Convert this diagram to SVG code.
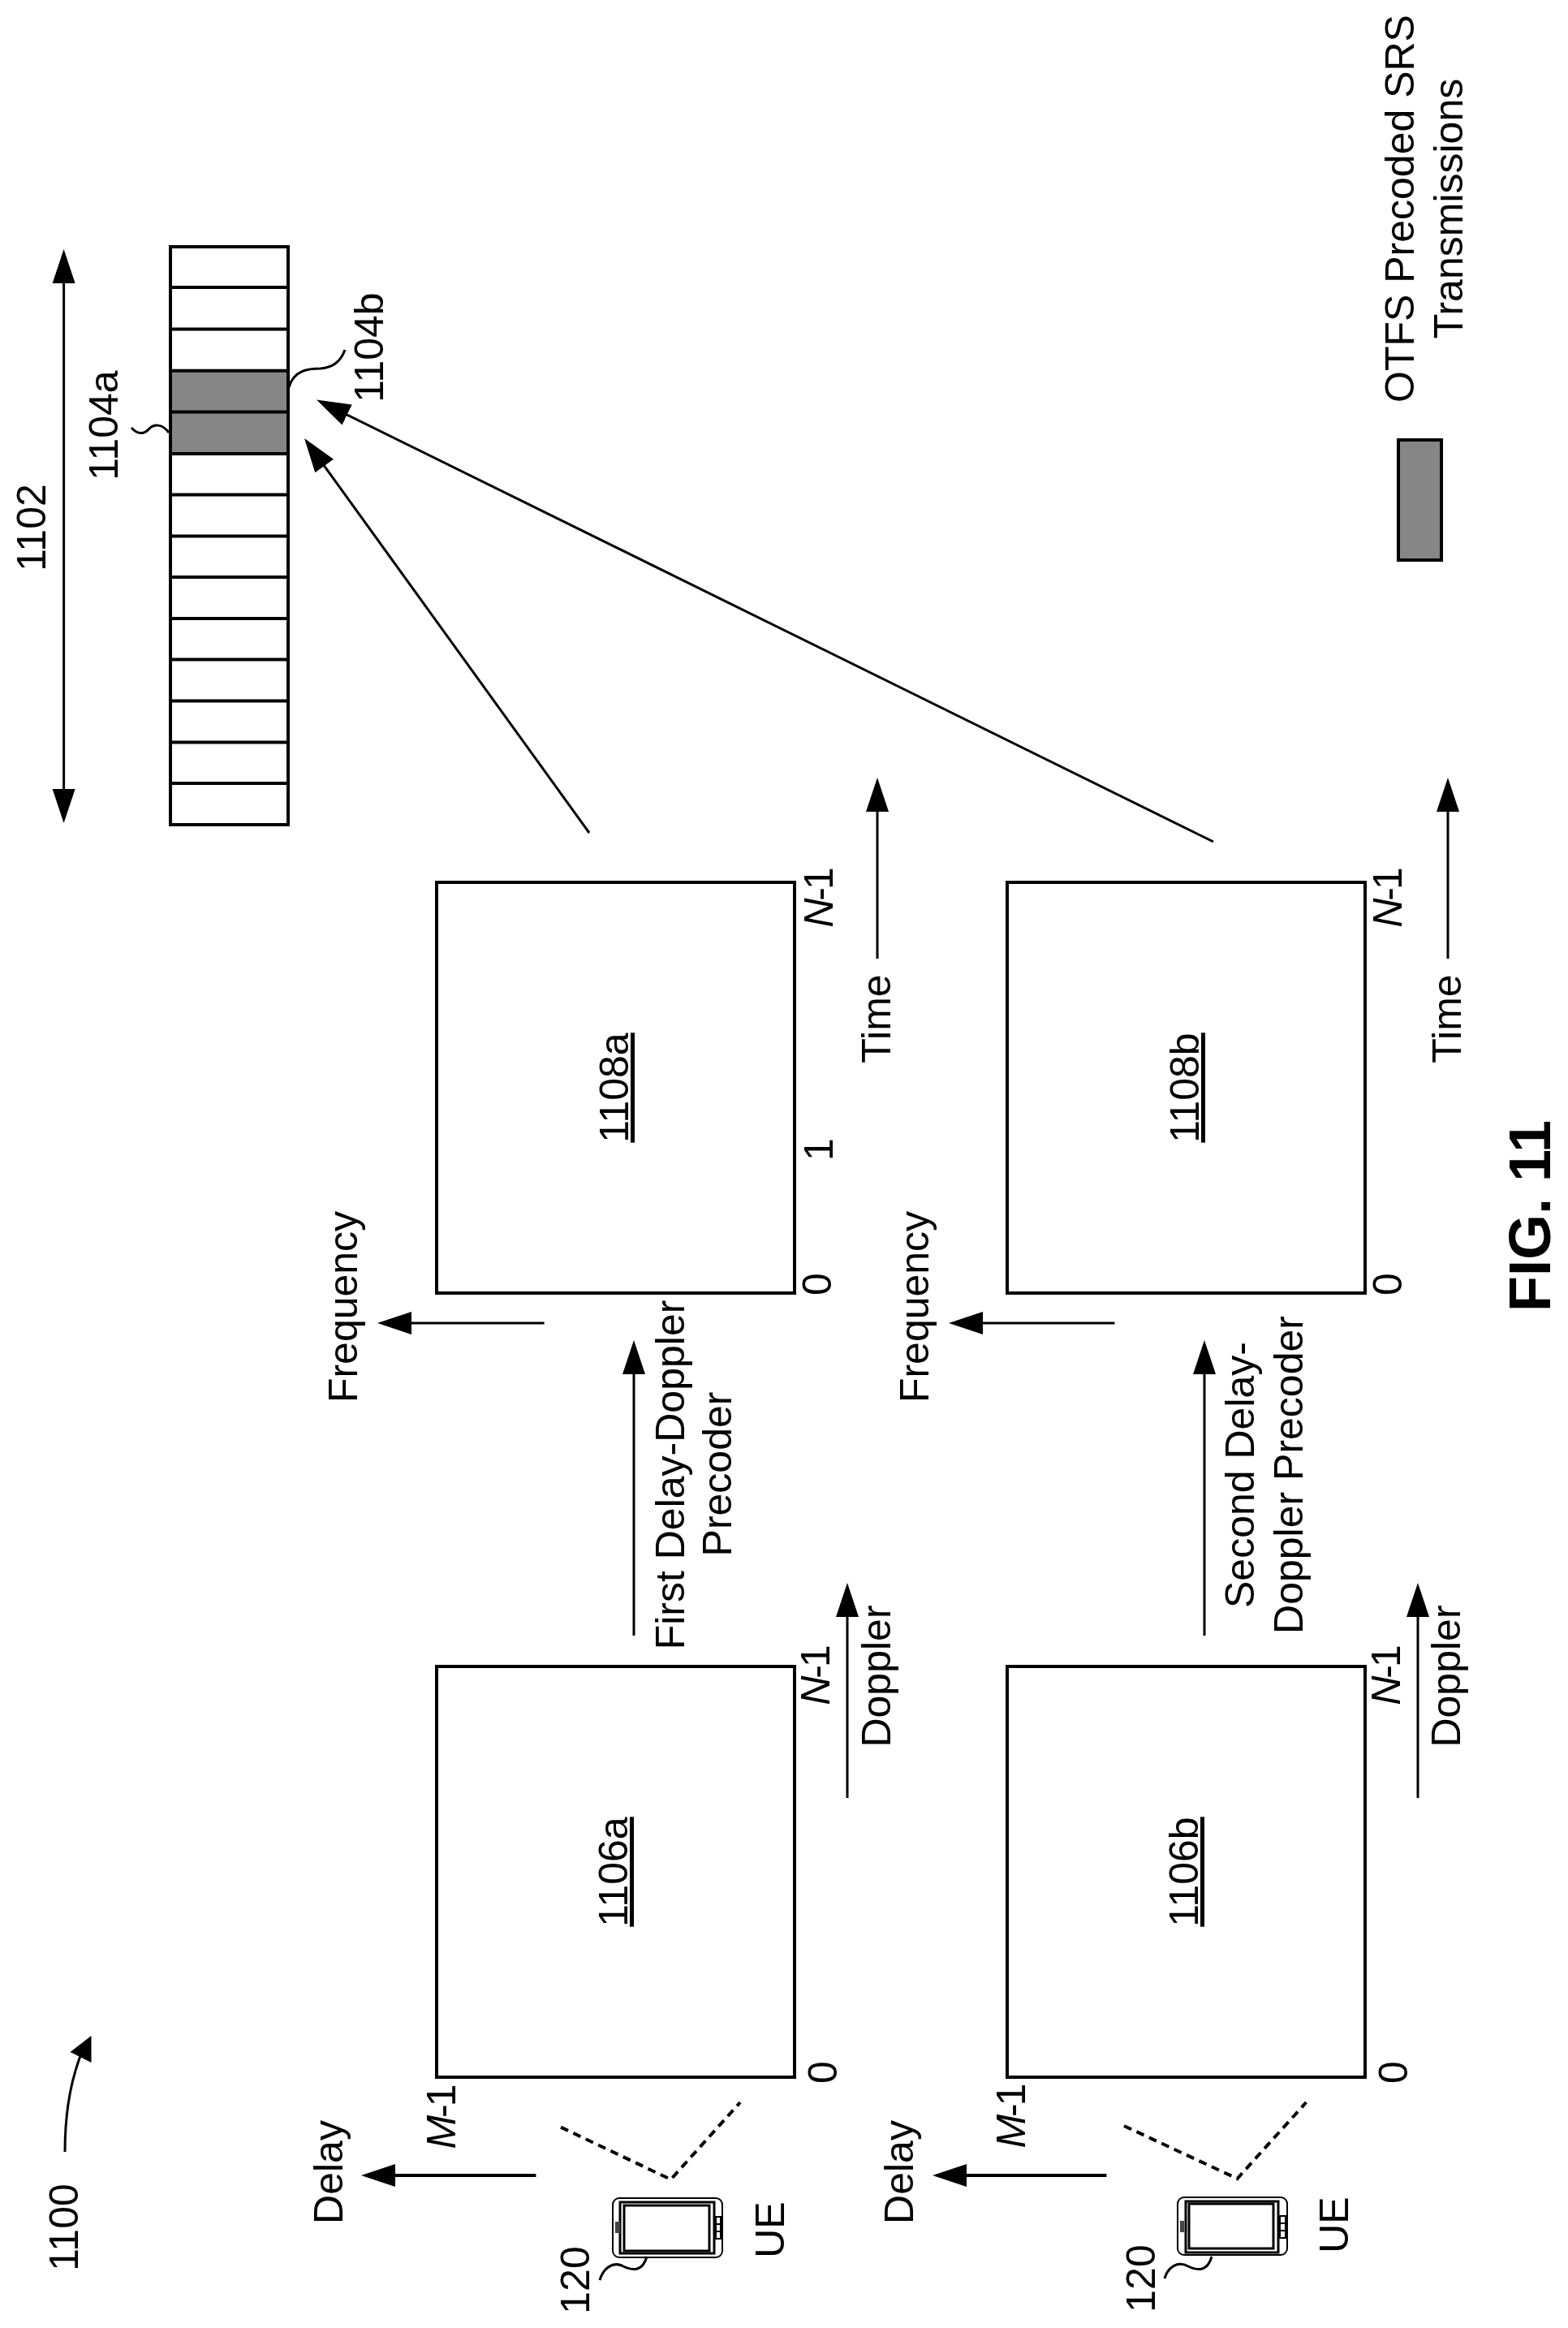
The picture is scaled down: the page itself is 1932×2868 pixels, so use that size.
<svg xmlns="http://www.w3.org/2000/svg" width="1932" height="2868" viewBox="0 0 1932 2868">
<defs>
<style>
text{font-family:"Liberation Sans",Arial,sans-serif;font-size:50px;fill:#000;text-anchor:middle}
.it{font-style:italic}
.ul{text-decoration:underline;text-decoration-thickness:2px}
.fig{font-weight:bold;font-size:72px}
.box{fill:#fff;stroke:#000;stroke-width:4}
.shade{fill:#868686;stroke:#000;stroke-width:4}
.ln{fill:none;stroke:#000;stroke-width:3;stroke-linecap:butt}
.arr{marker-end:url(#head)}
.dash{fill:none;stroke:#000;stroke-width:4;stroke-dasharray:10 7}
.thin{fill:none;stroke:#000;stroke-width:2}
</style>
<marker id="head" markerUnits="userSpaceOnUse" markerWidth="44" markerHeight="30" refX="32" refY="15" orient="auto-start-reverse">
<path d="M0 1 L42 15 L0 29 Z" fill="#000"/>
</marker>
</defs>
<rect width="1932" height="2868" fill="#fff"/>

<g id="strip-1102">
<rect class="box" x="210" y="304" width="145" height="712"/>
<rect class="shade" x="210" y="456.7" width="145" height="102.3"/>
<path class="ln" style="stroke-width:4" d="M210 354H355M210 405.5H355M210 507.5H355M210 609.6H355M210 660.5H355M210 711H355M210 762H355M210 812.5H355M210 863.6H355M210 914.5H355M210 965H355"/>
<text transform="translate(56 650) rotate(-90)">1102</text>
<text transform="translate(145 524) rotate(-90)">1104a</text>
<text transform="translate(472 428) rotate(-90)">1104b</text>
<path class="ln" d="M208 533C200 522 190 522 184 528C178 535 170 536 162 527"/>
<path class="ln" d="M356 477C362 456 380 454 395 454C410 453 420 445 425 431"/>
</g>

<g id="legend">
<rect class="shade" x="1723" y="542" width="53" height="148"/>
<text transform="translate(1742 257) rotate(-90)">OTFS Precoded SRS</text>
<text transform="translate(1802 257) rotate(-90)">Transmissions</text>
</g>

<g id="grid-1108a">
<rect class="box" x="538" y="1087" width="441" height="506"/>
<text class="ul" transform="translate(774 1340) rotate(-90)">1108a</text>
<text transform="translate(1024 1582) rotate(-90)">0</text>
<text transform="translate(1026 1416) rotate(-90)">1</text>
<text transform="translate(1026 1107) rotate(-90)" letter-spacing="-3"><tspan class="it">N</tspan>-1</text>
<text transform="translate(1097 1255) rotate(-90)">Time</text>
<text transform="translate(440 1610) rotate(-90)">Frequency</text>
</g>

<g id="grid-1108b">
<rect class="box" x="1241" y="1087" width="441" height="506"/>
<text class="ul" transform="translate(1477 1340) rotate(-90)">1108b</text>
<text transform="translate(1727 1582) rotate(-90)">0</text>
<text transform="translate(1727 1107) rotate(-90)" letter-spacing="-3"><tspan class="it">N</tspan>-1</text>
<text transform="translate(1800 1255) rotate(-90)">Time</text>
<text transform="translate(1144 1610) rotate(-90)">Frequency</text>
</g>

<g id="grid-1106a">
<rect class="box" x="538" y="2053" width="441" height="506"/>
<text class="ul" transform="translate(773 2306) rotate(-90)">1106a</text>
<text transform="translate(1031 2553) rotate(-90)">0</text>
<text transform="translate(1022 2065) rotate(-90)" letter-spacing="-3"><tspan class="it">N</tspan>-1</text>
<text transform="translate(1097 2065) rotate(-90)">Doppler</text>
<text transform="translate(561 2609) rotate(-90)" letter-spacing="-3"><tspan class="it">M</tspan>-1</text>
<text transform="translate(422 2676) rotate(-90)">Delay</text>
</g>

<g id="grid-1106b">
<rect class="box" x="1241" y="2053" width="441" height="506"/>
<text class="ul" transform="translate(1476 2306) rotate(-90)">1106b</text>
<text transform="translate(1734 2553) rotate(-90)">0</text>
<text transform="translate(1725 2065) rotate(-90)" letter-spacing="-3"><tspan class="it">N</tspan>-1</text>
<text transform="translate(1799 2065) rotate(-90)">Doppler</text>
<text transform="translate(1263 2608) rotate(-90)" letter-spacing="-3"><tspan class="it">M</tspan>-1</text>
<text transform="translate(1125 2676) rotate(-90)">Delay</text>
</g>

<g id="ue-a">
<rect class="thin" x="755" y="2708" width="135" height="73" rx="8"/>
<rect class="thin" style="stroke-width:3" x="764" y="2713" width="116" height="63"/>
<rect class="thin" style="stroke-width:3" x="769" y="2717" width="105" height="56"/>
<rect x="758" y="2737" width="6" height="14" fill="#444"/>
<path class="thin" d="M882 2731h6v27h-6zM882 2740h6M882 2749h6"/>
<path class="ln" d="M797 2780C792 2798 780 2798 768 2792C755 2785 743 2795 739 2809"/>
<text transform="translate(725.5 2809) rotate(-90)">120</text>
<text transform="translate(966 2747) rotate(-90)">UE</text>
</g>

<g id="ue-b">
<rect class="thin" x="1451" y="2707" width="135" height="71" rx="8"/>
<rect class="thin" style="stroke-width:3" x="1461" y="2712" width="114" height="63"/>
<rect class="thin" style="stroke-width:3" x="1465" y="2715" width="104" height="55"/>
<rect x="1454" y="2736" width="5" height="14" fill="#444"/>
<path class="thin" d="M1577 2730h7v27h-7zM1577 2739h7M1577 2748h7"/>
<path class="ln" d="M1493 2780C1488 2798 1476 2798 1464 2792C1451 2785 1439 2793 1435 2807"/>
<text transform="translate(1422.7 2807) rotate(-90)">120</text>
<text transform="translate(1661 2741) rotate(-90)">UE</text>
</g>

<g id="figure-labels">
<text class="fig" transform="translate(1910 1498) rotate(-90)">FIG. 11</text>
<text transform="translate(96 2744) rotate(-90)">1100</text>
<text transform="translate(842.5 1817) rotate(-90)">First Delay-Doppler</text>
<text transform="translate(901 1816) rotate(-90)">Precoder</text>
<text transform="translate(1544.6 1817) rotate(-90)">Second Delay-</text>
<text transform="translate(1605 1817) rotate(-90)">Doppler Precoder</text>
</g>

<g id="connectors">
<path class="ln" style="marker-start:url(#head);marker-end:url(#head)" d="M78.6 317V1004"/>
<path class="ln arr" d="M726 1026L380.9 548.1"/>
<path class="ln arr" d="M1495 1037L399 496.9"/>
<path class="ln arr" d="M670.6 1630H475"/>
<path class="ln arr" d="M1373.4 1630H1179"/>
<path class="ln arr" d="M1081 1181V968"/>
<path class="ln arr" d="M1784 1181V968"/>
<path class="ln arr" d="M781 2015V1661"/>
<path class="ln arr" d="M1484 2015V1661"/>
<path class="ln arr" d="M1044 2215V1960"/>
<path class="ln arr" d="M1747 2215V1960"/>
<path class="ln arr" style="stroke-width:4" d="M660.4 2680H455"/>
<path class="ln arr" style="stroke-width:4" d="M1363.4 2680H1159"/>
<path class="dash" d="M691 2620.6L826.5 2685L912 2590"/>
<path class="dash" d="M1385 2619L1524.5 2684L1609.4 2590"/>
<path class="ln" d="M80 2651C80 2610 85 2570 99 2533"/>
<polygon points="112.5,2508 86.5,2528 112.5,2541" fill="#000"/>
</g>
</svg>
